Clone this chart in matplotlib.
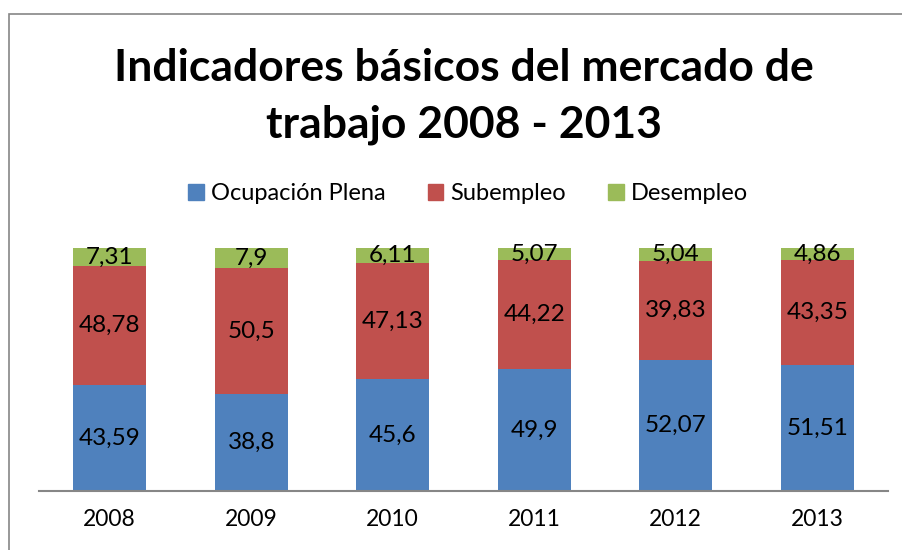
import matplotlib
matplotlib.use("Agg")
import matplotlib.pyplot as plt
import matplotlib.patches as mpatches
import numpy as np

years = ["2008", "2009", "2010", "2011", "2012", "2013"]
ocupacion = [43.59, 38.8, 45.6, 49.9, 52.07, 51.51]
subempleo = [48.78, 50.5, 47.13, 44.22, 39.83, 43.35]
desempleo = [7.31, 7.9, 6.11, 5.07, 5.04, 4.86]
series_names = ["Ocupación Plena", "Subempleo", "Desempleo"]
colors = ["#4F81BD", "#C0504D", "#9BBB59"]

plt.rcParams["font.family"] = ["Lato", "DejaVu Sans"]

W, H = 903, 550
fig = plt.figure(figsize=(W / 100, H / 100), dpi=100)

# chart frame
fig.patches.append(mpatches.Rectangle((9.5 / W, -0.1), 1.2, 1 - 13.5 / H + 0.1,
                                      transform=fig.transFigure, fill=False,
                                      edgecolor="#868686", linewidth=1.2))

ax = fig.add_axes([39 / W, 1 - 491 / H, (888 - 39) / W, (491 - 248) / H])

data = np.array([ocupacion, subempleo, desempleo])
totals = data.sum(axis=0)
pct = data / totals * 100
x = np.arange(len(years))
bottom = np.zeros(len(years))
for i in range(3):
    bars = ax.bar(x, pct[i], 0.516, bottom=bottom, color=colors[i],
                  label=series_names[i], edgecolor="none")
    for j, b in enumerate(bars):
        lab = ("%g" % data[i][j]).replace(".", ",")
        ax.text(b.get_x() + b.get_width() / 2, bottom[j] + pct[i][j] / 2, lab,
                ha="center", va="center", fontsize=17.5, color="black")
    bottom += pct[i]

ax.set_xlim(-0.5, len(years) - 0.5)
ax.set_ylim(0, 100)
ax.set_yticks([])
ax.set_xticks(x)
ax.set_xticklabels(years, fontsize=16.5)
ax.tick_params(axis="x", length=0, pad=13)
for s in ["top", "right", "left"]:
    ax.spines[s].set_visible(False)
ax.spines["bottom"].set_color("#868686")
ax.spines["bottom"].set_linewidth(1.5)

cx = 464 / W
fig.text(cx, 1 - 68 / H, "Indicadores básicos del mercado de", ha="center",
         va="center", fontsize=32, fontweight="bold")
fig.text(cx, 1 - 125 / H, "trabajo 2008 - 2013", ha="center",
         va="center", fontsize=32, fontweight="bold")

handles = [mpatches.Patch(color=c) for c in colors]
fig.legend(handles, series_names, loc="center", bbox_to_anchor=(468 / W, 1 - 194 / H),
           ncol=3, frameon=False, fontsize=17, handlelength=0.65, handleheight=0.65,
           handletextpad=0.3, columnspacing=1.8)

fig.savefig("out.png", dpi=100)
